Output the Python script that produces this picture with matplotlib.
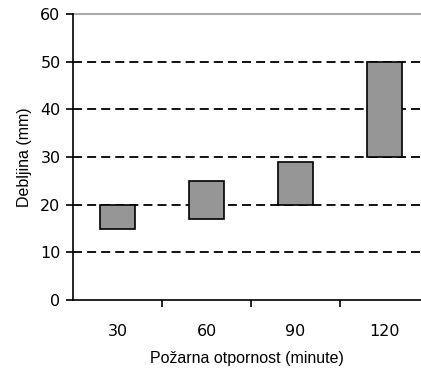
import matplotlib.pyplot as plt
import numpy as np

categories = ['30', '60', '90', '120']
low = [15, 17, 20, 30]
high = [20, 25, 29, 50]

plt.rcParams['font.family'] = ['Liberation Sans', 'DejaVu Sans']
fig = plt.figure(figsize=(4.21, 3.70), dpi=100)
ax = fig.add_axes([73 / 421, 70 / 370, 1 - 73 / 421, 286 / 370])

x = np.arange(len(categories))
heights = [h - l for h, l in zip(high, low)]
ax.bar(x, heights, bottom=low, width=0.4, color='#969696',
       edgecolor='black', linewidth=1.2, zorder=3)

for y in [10, 20, 30, 40, 50]:
    ax.axhline(y, color='black', linestyle=(0, (5, 2.8)), linewidth=1.3, zorder=1)
ax.axhline(60, color='#aaaaaa', linewidth=1.5, zorder=1, clip_on=False)

ax.set_ylim(0, 60)
ax.set_xlim(-0.5, 3.41)
ax.set_yticks(range(0, 61, 10))
ax.set_xticks(x)
ax.set_xticklabels(categories)
ax.set_xticks(x[:-1] + 0.5, minor=True)
ax.tick_params(axis='x', which='major', length=0, pad=17)
ax.tick_params(axis='x', which='minor', length=5, width=1.2, direction='out')
ax.tick_params(axis='y', length=5, width=1.2, direction='out', pad=4)
for lab in ax.get_xticklabels() + ax.get_yticklabels():
    lab.set_fontfamily(['DejaVu Sans Condensed', 'DejaVu Sans'])
    lab.set_fontsize(11.5)

ax.spines['top'].set_visible(False)
ax.spines['right'].set_visible(False)
ax.spines['left'].set_linewidth(1.2)
ax.spines['bottom'].set_linewidth(1.2)

ax.set_ylabel('Debljina (mm)', fontsize=11.5, labelpad=6)
ax.set_xlabel('Požarna otpornost (minute)', fontsize=11.5, labelpad=9)

fig.savefig('out.png', dpi=100)
